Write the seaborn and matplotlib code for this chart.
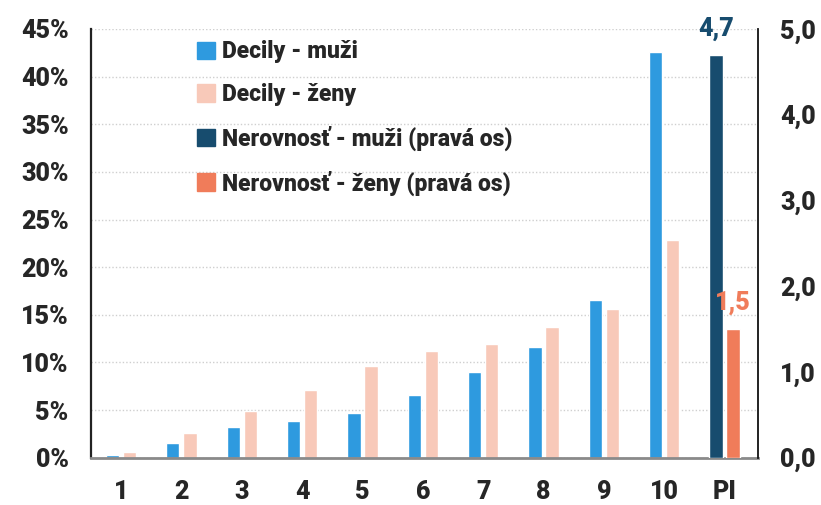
import matplotlib
matplotlib.use("Agg")
import matplotlib.pyplot as plt
from matplotlib.patches import Patch
from matplotlib.ticker import FuncFormatter, MultipleLocator
import pandas as pd
import seaborn as sns

# Income decile shares (%) and inequality index (right axis)
categories = ["1", "2", "3", "4", "5", "6", "7", "8", "9", "10", "PI"]
deciles = ["1", "2", "3", "4", "5", "6", "7", "8", "9", "10"]
men_share = [0.3, 1.5, 3.2, 3.9, 4.7, 6.55, 9.0, 11.6, 16.55, 42.55]
women_share = [0.6, 2.6, 4.9, 7.1, 9.6, 11.2, 11.9, 13.7, 15.6, 22.8]
inequality_labels = ["Nerovnosť - muži (pravá os)", "Nerovnosť - ženy (pravá os)"]
inequality_values = [4.7, 1.5]
decile_labels = ["Decily - muži", "Decily - ženy"]

c_men, c_women = "#2E9ADF", "#F8C9B9"
c_ineq_men, c_ineq_women = "#174C6E", "#F07C5A"

sns.set_theme(style="white")
plt.rcParams["font.family"] = ["Roboto", "DejaVu Sans"]
W = "black"

df_dec = pd.DataFrame({
    "kat": deciles * 2,
    "hodnota": men_share + women_share,
    "skupina": [decile_labels[0]] * len(deciles) + [decile_labels[1]] * len(deciles),
})
df_ineq = pd.DataFrame({
    "kat": ["PI", "PI"],
    "hodnota": inequality_values,
    "skupina": inequality_labels,
})

fig = plt.figure(figsize=(8.21, 5.05), dpi=100)
ax = fig.add_axes([0.1108, 0.0937, 0.8121, 0.8489])

sns.barplot(data=df_dec, x="kat", y="hodnota", hue="skupina", order=categories,
            hue_order=decile_labels, palette=[c_men, c_women],
            width=0.57, gap=0.23, ax=ax, legend=False, saturation=1)
ax2 = ax.twinx()
sns.barplot(data=df_ineq, x="kat", y="hodnota", hue="skupina", order=categories,
            hue_order=inequality_labels, palette=[c_ineq_men, c_ineq_women],
            width=0.57, gap=0.23, ax=ax2, legend=False, saturation=1)

ax.set_xlim(-0.5, 10.55)
ax.set_ylim(0, 45)
ax2.set_ylim(0, 5)
ax.yaxis.set_major_locator(MultipleLocator(5))
ax2.yaxis.set_major_locator(MultipleLocator(1))
ax.yaxis.set_major_formatter(FuncFormatter(lambda v, p: f"{v:.0f}%"))
ax2.yaxis.set_major_formatter(FuncFormatter(lambda v, p: f"{v:.1f}".replace(".", ",")))

ax.set_xlabel("")
ax.set_ylabel("")
ax2.set_xlabel("")
ax2.set_ylabel("")

ax.grid(axis="y", color="#cfcfcf", linestyle=(0, (1, 1.5)), linewidth=1)
ax.set_axisbelow(True)

for a in (ax, ax2):
    a.tick_params(length=0, labelsize=18, pad=16)
    for lab in a.get_xticklabels() + a.get_yticklabels():
        lab.set_fontweight(W)

for s in ["top"]:
    ax.spines[s].set_visible(False)
    ax2.spines[s].set_visible(False)
ax2.spines["left"].set_visible(False)
ax2.spines["bottom"].set_visible(False)
ax.spines["right"].set_visible(False)
ax.spines["left"].set_color("#222222")
ax.spines["left"].set_linewidth(1.6)
ax.spines["bottom"].set_color("#8a8a8a")
ax.spines["bottom"].set_linewidth(2)
ax2.spines["right"].set_color("#111111")
ax2.spines["right"].set_linewidth(1.3)

# Value labels on the inequality bars
for bar, val, col in zip(ax2.patches, inequality_values, [c_ineq_men, c_ineq_women]):
    ax2.annotate(f"{val:.1f}".replace(".", ","),
                 (bar.get_x() + bar.get_width() / 2, val),
                 xytext=(0, 10), textcoords="offset points",
                 ha="center", va="bottom", fontsize=18, fontweight=W, color=col)

handles = [Patch(color=c) for c in (c_men, c_women, c_ineq_men, c_ineq_women)]
labels = decile_labels + inequality_labels
fig.legend(handles, labels, loc="upper left", bbox_to_anchor=(0.2285, 0.938),
           frameon=False, handlelength=0.8, handleheight=0.8,
           handletextpad=0.3, labelspacing=0.85, borderaxespad=0,
           prop={"weight": W, "size": 16.5})

fig.savefig("out.png", dpi=100)
